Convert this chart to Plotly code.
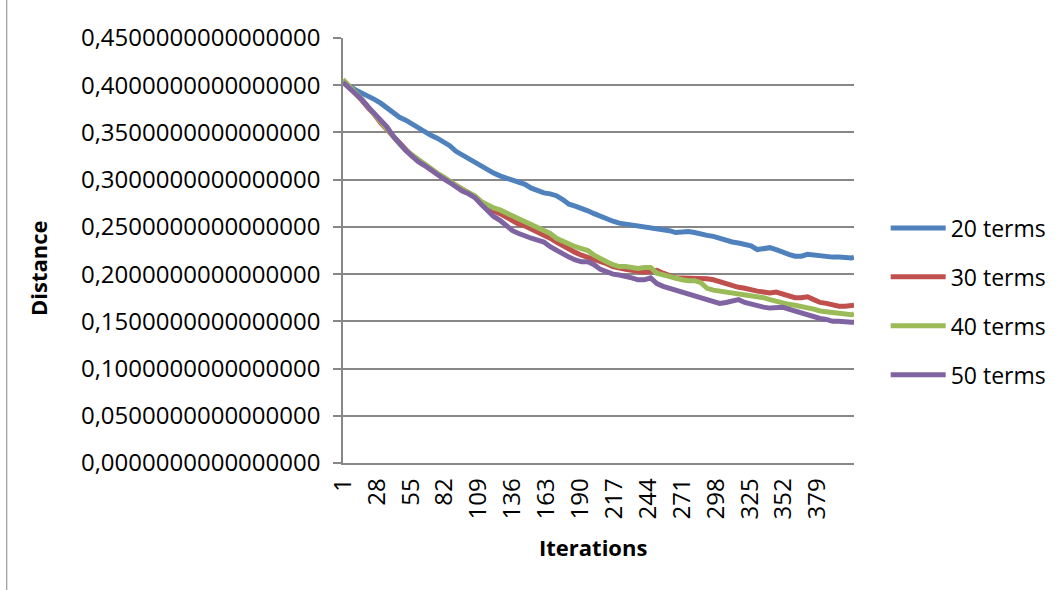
import plotly.graph_objects as go

# ---------------- data ----------------
iterations = [1, 6, 11, 16, 21, 26, 31, 36, 41, 46, 51, 56, 61, 66, 71, 76, 81, 86, 91, 96,
              101, 106, 111, 116, 121, 126, 131, 136, 141, 146, 151, 156, 161, 166, 171, 176, 181, 186, 191, 196,
              201, 206, 211, 216, 221, 226, 231, 236, 241, 246, 251, 256, 261, 266, 271, 276, 281, 286, 291, 296,
              301, 306, 311, 316, 321, 326, 331, 336, 341, 346, 351, 356, 361, 366, 371, 376, 381, 386, 391, 396,
              401, 406, 408]

terms20 = [0.405, 0.399, 0.395, 0.392, 0.389, 0.385, 0.381, 0.376, 0.372, 0.366,
           0.363, 0.359, 0.354, 0.350, 0.347, 0.344, 0.340, 0.336, 0.330, 0.326,
           0.323, 0.318, 0.314, 0.310, 0.307, 0.304, 0.302, 0.299, 0.298, 0.295,
           0.291, 0.288, 0.286, 0.285, 0.283, 0.279, 0.274, 0.272, 0.270, 0.267,
           0.264, 0.261, 0.259, 0.256, 0.254, 0.253, 0.253, 0.252, 0.251, 0.250,
           0.249, 0.247, 0.246, 0.244, 0.245, 0.245, 0.244, 0.242, 0.241, 0.240,
           0.238, 0.235, 0.234, 0.233, 0.232, 0.230, 0.226, 0.227, 0.228, 0.226,
           0.223, 0.221, 0.219, 0.219, 0.221, 0.220, 0.220, 0.218, 0.218, 0.218,
           0.217, 0.217, 0.218]

terms30 = [0.405, 0.398, 0.392, 0.384, 0.376, 0.369, 0.360, 0.353, 0.346, 0.339,
           0.332, 0.325, 0.320, 0.316, 0.311, 0.306, 0.302, 0.297, 0.293, 0.289,
           0.286, 0.282, 0.276, 0.271, 0.267, 0.264, 0.260, 0.256, 0.253, 0.251,
           0.248, 0.245, 0.241, 0.238, 0.234, 0.230, 0.227, 0.223, 0.220, 0.218,
           0.215, 0.213, 0.211, 0.208, 0.206, 0.205, 0.204, 0.203, 0.202, 0.203,
           0.204, 0.201, 0.198, 0.196, 0.196, 0.196, 0.196, 0.195, 0.195, 0.194,
           0.192, 0.189, 0.187, 0.186, 0.185, 0.183, 0.182, 0.181, 0.180, 0.181,
           0.179, 0.177, 0.175, 0.175, 0.176, 0.173, 0.170, 0.169, 0.167, 0.166,
           0.166, 0.167, 0.167]

terms40 = [0.406, 0.399, 0.393, 0.385, 0.377, 0.369, 0.361, 0.352, 0.345, 0.338,
           0.331, 0.326, 0.321, 0.317, 0.312, 0.307, 0.303, 0.298, 0.294, 0.290,
           0.287, 0.283, 0.277, 0.273, 0.270, 0.268, 0.265, 0.262, 0.258, 0.255,
           0.252, 0.250, 0.247, 0.243, 0.238, 0.235, 0.231, 0.229, 0.227, 0.225,
           0.220, 0.216, 0.213, 0.210, 0.208, 0.208, 0.207, 0.206, 0.207, 0.207,
           0.201, 0.199, 0.197, 0.196, 0.194, 0.193, 0.193, 0.191, 0.185, 0.183,
           0.182, 0.181, 0.181, 0.180, 0.179, 0.178, 0.177, 0.175, 0.173, 0.171,
           0.170, 0.168, 0.167, 0.166, 0.165, 0.163, 0.161, 0.160, 0.159, 0.158,
           0.157, 0.157, 0.158]

terms50 = [0.403, 0.397, 0.390, 0.385, 0.377, 0.370, 0.362, 0.356, 0.346, 0.338,
           0.331, 0.325, 0.319, 0.315, 0.310, 0.305, 0.301, 0.297, 0.292, 0.288,
           0.285, 0.281, 0.274, 0.267, 0.261, 0.257, 0.252, 0.246, 0.243, 0.240,
           0.238, 0.236, 0.234, 0.229, 0.225, 0.222, 0.218, 0.215, 0.213, 0.213,
           0.210, 0.205, 0.202, 0.200, 0.199, 0.198, 0.196, 0.194, 0.194, 0.196,
           0.190, 0.187, 0.185, 0.183, 0.181, 0.180, 0.178, 0.176, 0.174, 0.171,
           0.169, 0.170, 0.171, 0.173, 0.170, 0.168, 0.166, 0.165, 0.164, 0.164,
           0.165, 0.163, 0.161, 0.158, 0.156, 0.154, 0.153, 0.152, 0.150, 0.150,
           0.149, 0.149, 0.149]

series_names = ["20 terms", "30 terms", "40 terms", "50 terms"]
series_values = [terms20, terms30, terms40, terms50]
series_colors = ["#4F81BD", "#C0504D", "#9BBB59", "#8064A2"]

x_tick_values = [1, 28, 55, 82, 109, 136, 163, 190, 217, 244, 271, 298, 325, 352, 379]
y_tick_values = [0.0, 0.05, 0.10, 0.15, 0.20, 0.25, 0.30, 0.35, 0.40, 0.45]
y_tick_labels = [f"{v:.16f}".replace(".", ",") for v in y_tick_values]

x_title = "Iterations"
y_title = "Distance"

FONT = "Open Sans, Noto Sans, sans-serif"
GRID = "#878787"

fig = go.Figure()
for name, vals, col in zip(series_names, series_values, series_colors):
    fig.add_trace(go.Scatter(
        x=iterations, y=vals, name=name, mode="lines",
        line=dict(color=col, width=5), legendgroup=name,
    ))

fig.update_layout(
    width=1064, height=590,
    margin=dict(l=343, r=210, t=38, b=127),
    paper_bgcolor="white", plot_bgcolor="white",
    font=dict(family=FONT, size=23, color="black"),
    showlegend=True,
    legend=dict(
        x=1.062, xanchor="left", y=0.38, yanchor="middle",
        font=dict(family=FONT, size=23, color="black"),
        tracegroupgap=16, itemwidth=55, bgcolor="rgba(0,0,0,0)",
        traceorder="grouped",
    ),
    xaxis=dict(
        range=[1, 408], tickvals=x_tick_values, ticktext=[str(v) for v in x_tick_values],
        tickangle=-90, showgrid=False, zeroline=False, showline=True,
        linecolor=GRID, linewidth=1.5, ticks="", tickfont=dict(size=24),
        ticklabelstandoff=4,
    ),
    yaxis=dict(
        range=[0, 0.45], tickvals=y_tick_values, ticktext=y_tick_labels,
        showgrid=True, gridcolor=GRID, gridwidth=1.5, zeroline=False,
        showline=True, linecolor=GRID, linewidth=1.5,
        ticks="outside", ticklen=8, tickcolor=GRID, tickwidth=1.5,
        tickfont=dict(size=24), ticklabelstandoff=8,
    ),
    annotations=[
        dict(text=f"<b>{x_title}</b>", xref="paper", yref="paper", x=0.49, y=-0.198,
             xanchor="center", yanchor="middle", showarrow=False, font=dict(size=22)),
        dict(text=f"<b>{y_title}</b>", xref="paper", yref="paper", x=-0.598, y=0.46,
             xanchor="center", yanchor="middle", textangle=-90, showarrow=False,
             font=dict(size=22)),
    ],
    shapes=[
        dict(type="line", xref="paper", yref="paper", x0=-0.658, x1=-0.658, y0=-0.3, y1=1.09,
             line=dict(color=GRID, width=1)),
    ],
)

fig.write_html("out.html")
